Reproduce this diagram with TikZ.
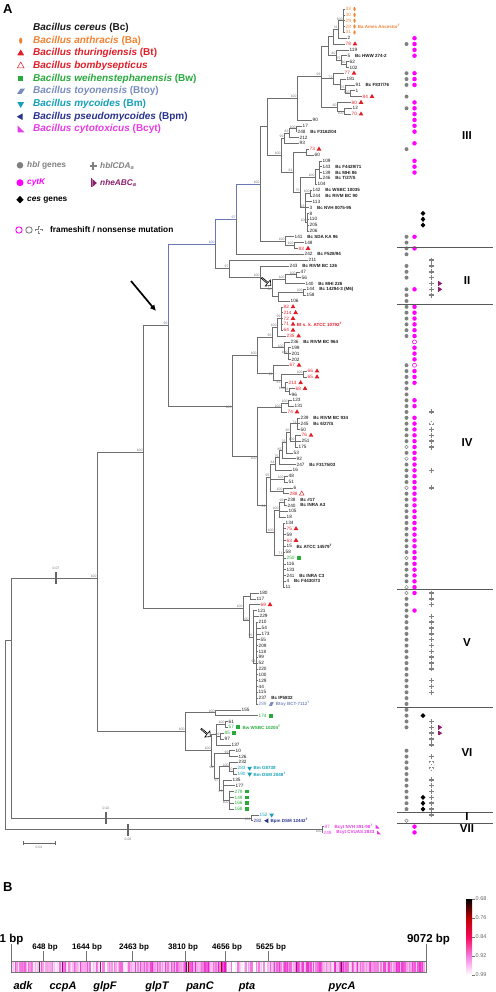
\documentclass[tikz,border=0pt]{standalone}
\usepackage{fontspec}
\setmainfont{Liberation Sans}
\usepackage{xcolor}
\usepackage{tikz}
\usetikzlibrary{shapes.geometric, shapes.arrows, arrows.meta, positioning, calc}

\definecolor{bcc}{RGB}{25,25,25}
\definecolor{bac}{RGB}{240,130,50}
\definecolor{btc}{RGB}{225,30,40}
\definecolor{bwc}{RGB}{40,170,60}
\definecolor{btoyc}{RGB}{120,140,190}
\definecolor{bmc}{RGB}{20,160,185}
\definecolor{bpmc}{RGB}{40,50,140}
\definecolor{bcytc}{RGB}{230,60,230}
\definecolor{hblgray}{RGB}{128,128,128}
\definecolor{cytk}{RGB}{255,0,255}
\definecolor{nhec}{RGB}{140,30,110}
\definecolor{brc}{RGB}{110,110,110}
\definecolor{bluebr}{RGB}{105,120,180}
\definecolor{heat}{RGB}{235,20,200}

% row positions of the tree leaves
\newcommand{\rowy}[1]{9+5.84*#1}

\begin{document}
\begin{tikzpicture}[x=1pt, y=-1pt,
  br/.style={draw=brc, line width=0.55pt},
  brb/.style={draw=bluebr, line width=0.55pt},
  leaf/.style={anchor=west, inner sep=0.5pt, font=\fontsize{4.7}{5}\selectfont},
  strain/.style={anchor=west, inner sep=0.5pt, font=\fontsize{4.5}{5}\selectfont\bfseries},
  bs/.style={inner sep=0.3pt, text=black!55, font=\fontsize{3.4}{3.4}\selectfont},
  nomk/.style={inner sep=0pt, minimum size=0pt},
  ba/.style={ellipse, fill=bac, inner sep=0pt, minimum width=2.2pt, minimum height=4.2pt},
  bt/.style={regular polygon, regular polygon sides=3, fill=btc, inner sep=0pt, minimum size=5.4pt},
  bbo/.style={regular polygon, regular polygon sides=3, draw=btc, line width=0.5pt, fill=white, inner sep=0pt, minimum size=5.4pt},
  bw/.style={rectangle, fill=bwc, inner sep=0pt, minimum size=3.8pt},
  btoy/.style={rectangle, inner sep=0pt, minimum width=4.6pt, minimum height=3.6pt,
    path picture={\fill[btoyc] (path picture bounding box.south west)
      -- ([xshift=-1.6pt]path picture bounding box.south east)
      -- (path picture bounding box.north east)
      -- ([xshift=1.6pt]path picture bounding box.north west) -- cycle;}},
  bm/.style={regular polygon, regular polygon sides=3, shape border rotate=180, fill=bmc, inner sep=0pt, minimum size=5.4pt},
  bpm/.style={regular polygon, regular polygon sides=3, shape border rotate=90, fill=bpmc, inner sep=0pt, minimum size=5.4pt},
  leg/.style={anchor=west, inner sep=0pt, font=\fontsize{10}{11}\selectfont\bfseries},
  gleg/.style={anchor=west, inner sep=0pt, font=\fontsize{8.3}{9}\selectfont\bfseries},
  clade/.style={font=\fontsize{11.5}{12}\selectfont\bfseries},
  sepline/.style={draw=black!65, line width=0.9pt},
  plusst/.style={draw=black!50, line width=1.5pt},
  bp/.style={font=\fontsize{8}{8}\selectfont\bfseries, anchor=base, inner sep=0pt},
  gene/.style={font=\fontsize{11}{11}\selectfont\bfseries\itshape, anchor=base, inner sep=0pt},
  panel/.style={font=\fontsize{13}{13}\selectfont\bfseries, anchor=west, inner sep=0pt},
]
\useasboundingbox (0,0) rectangle (495,992);

% panel letters
\node[panel] (labA) at (3,9) {A};
\node[panel] (labB) at (3,887) {B};

% species legend
\foreach \i/\col/\mk/\t in {0/bcc/nomk/{\textit{Bacillus cereus} (Bc)},
  1/bac/ba/{\textit{Bacillus anthracis} (Ba)},
  2/btc/bt/{\textit{Bacillus thuringiensis} (Bt)},
  3/btc/bbo/{\textit{Bacillus bombysepticus}},
  4/bwc/bw/{\textit{Bacillus weihenstephanensis} (Bw)},
  5/btoyc/nomk/{\textit{Bacillus toyonensis} (Btoy)},
  6/bmc/bm/{\textit{Bacillus mycoides} (Bm)},
  7/bpmc/bpm/{\textit{Bacillus pseudomycoides} (Bpm)},
  8/bcytc/nomk/{\textit{Bacillus cytotoxicus} (Bcyt)}}{
  \node[leg, text=\col] (sp\i) at (33,{28+12.67*\i}) {\t};
  \node[\mk, scale=1.45] (lm\i) at (20.7,{28+12.67*\i}) {};
}
\fill[btoyc] (17,94) -- (21.5,94) -- (25,88.6) -- (20.5,88.6) -- cycle;
\fill[bcytc] (17.5,125.5) -- (17.5,132.5) -- (24.5,132.5) -- cycle;

% gene legend
\fill[hblgray] (20,165.3) circle (3.3pt);
\node[gleg, text=hblgray] (gl1) at (27,165.3) {\textit{hbl} genes};
\fill[cytk] (20,182.7) circle (3.5pt);
\node[gleg, text=cytk] (gl2) at (27,182.7) {\textit{cytK}};
\fill (20,199.7) +(0,-3.8) -- +(3.6,0) -- +(0,3.8) -- +(-3.6,0) -- cycle;
\node[gleg] (gl3) at (27,199.7) {\textit{ces} genes};
\draw[draw=hblgray, line width=2pt] (93.3,166) +(-3.6,0) -- +(3.6,0) +(0,-3.6) -- +(0,3.6);
\node[gleg, text=hblgray] (gl4) at (100,166) {\textit{hblCDA\textsubscript{a}}};
\fill[nhec] (91,178.5) rectangle (92.4,187.5);
\fill[nhec] (92.4,179) -- (96.8,183) -- (92.4,187) -- cycle;
\node[gleg, text=nhec] (gl5) at (100,183) {\textit{nheABC\textsubscript{a}}};
\draw[cytk, line width=0.9pt] (19,230) circle (3.2pt);
\draw[hblgray, line width=0.9pt] (29,230) circle (3.2pt);
\draw[hblgray, line width=2.4pt] (39,230) +(-3.6,0) -- +(3.6,0) +(0,-3.6) -- +(0,3.6);
\draw[white, line width=0.9pt] (39,230) +(-2.7,0) -- +(2.7,0) +(0,-2.7) -- +(0,2.7);
\node[gleg] (gl6) at (50,230) {frameshift / nonsense mutation};

% tree leaves: row / tip x / number / colour / mark / strain
\foreach \r/\x/\n/\col/\mk/\s in {
  0/345/33/bac/ba/{}, 1/345/30/bac/ba/{}, 2/345/29/bac/ba/{},
  3/345/28/bac/ba/{Ba Ames Ancestor\textsuperscript{T}}, 4/345/31/bac/ba/{},
  5/347/2/bcc/nomk/{}, 6/345/78/btc/bt/{}, 7/349/119/bcc/nomk/{},
  8/347/5/bcc/nomk/{Bc HWW 274-2}, 9/349/62/bcc/nomk/{}, 10/349/102/bcc/nomk/{},
  11/344/77/btc/bt/{}, 12/346/181/bcc/nomk/{}, 13/355/91/bcc/nomk/{Bc F837/76},
  14/355/1/bcc/nomk/{}, 15/362/84/btc/bt/{}, 16/351/80/btc/bt/{},
  17/352/12/bcc/nomk/{}, 18/351/70/btc/bt/{}, 19/312/90/bcc/nomk/{},
  20/302/17/bcc/nomk/{}, 21/297/248/bcc/nomk/{Bc F3162/04}, 22/299/212/bcc/nomk/{},
  23/299/93/bcc/nomk/{}, 24/309/73/btc/bt/{}, 25/314/60/bcc/nomk/{},
  26/322/109/bcc/nomk/{}, 27/322/143/bcc/nomk/{Bc F4429/71}, 28/322/139/bcc/nomk/{Bc MHI 86},
  29/322/246/bcc/nomk/{Bc T/27/S}, 30/317/104/bcc/nomk/{}, 31/312/142/bcc/nomk/{Bc WSBC 10035},
  32/312/244/bcc/nomk/{Bc RIVM BC 90}, 33/312/113/bcc/nomk/{}, 34/309/3/bcc/nomk/{Bc NVH 0075-95},
  35/309/8/bcc/nomk/{}, 36/309/110/bcc/nomk/{}, 37/309/205/bcc/nomk/{},
  38/309/206/bcc/nomk/{}, 39/294/141/bcc/nomk/{Bc SDA KA 96}, 40/304/148/bcc/nomk/{},
  41/298/83/btc/bt/{}, 42/304/242/bcc/nomk/{Bc F528/94}, 43/308/211/bcc/nomk/{},
  44/289/243/bcc/nomk/{Bc RIVM BC 126}, 45/300/47/bcc/nomk/{}, 46/301/56/bcc/nomk/{},
  47/305/140/bcc/nomk/{Bc MHI 226}, 48/306/144/bcc/nomk/{Bc 14294-3 (M6)}, 49/306/158/bcc/nomk/{},
  50/290/106/bcc/nomk/{}, 51/283/82/btc/bt/{}, 52/283/214/btc/bt/{},
  53/283/72/btc/bt/{}, 54/283/71/btc/bt/{Bt s. k. ATCC 10792\textsuperscript{T}}, 55/283/64/btc/bt/{},
  56/286/235/btc/bt/{}, 57/290/236/bcc/nomk/{Bc RIVM BC 964}, 58/291/199/bcc/nomk/{},
  59/291/201/bcc/nomk/{}, 60/291/202/bcc/nomk/{}, 61/289/67/btc/bt/{},
  62/307/66/btc/bt/{}, 63/307/65/btc/bt/{}, 64/288/213/btc/bt/{},
  65/295/68/btc/bt/{}, 66/291/96/bcc/nomk/{}, 67/292/123/bcc/nomk/{},
  68/294/131/bcc/nomk/{}, 69/287/74/btc/bt/{}, 70/300/239/bcc/nomk/{Bc RIVM BC 934},
  71/300/245/bcc/nomk/{Bc 6/27/S}, 72/300/50/bcc/nomk/{}, 73/301/76/btc/bt/{},
  74/301/251/bcc/nomk/{}, 75/298/175/bcc/nomk/{}, 76/293/53/bcc/nomk/{},
  77/296/92/bcc/nomk/{}, 78/296/247/bcc/nomk/{Bc F3175/03}, 79/292/16/bcc/nomk/{},
  80/288/48/bcc/nomk/{}, 81/288/51/bcc/nomk/{}, 82/293/6/bcc/nomk/{},
  83/289/288/btc/bbo/{}, 84/287/238/bcc/nomk/{Bc \#17}, 85/287/240/bcc/nomk/{Bc INRA A3},
  86/288/105/bcc/nomk/{}, 87/286/18/bcc/nomk/{}, 88/285/134/bcc/nomk/{},
  89/286/75/btc/bt/{}, 90/286/59/bcc/nomk/{}, 91/286/63/btc/bt/{},
  92/286/15/bcc/nomk/{Bc ATCC 14579\textsuperscript{T}}, 93/285/58/bcc/nomk/{}, 94/286/250/bwc/bw/{},
  95/286/116/bcc/nomk/{}, 96/286/133/bcc/nomk/{}, 97/286/241/bcc/nomk/{Bc INRA C3},
  98/286/4/bcc/nomk/{Bc F4430/73}, 99/285/11/bcc/nomk/{}, 100/259/180/bcc/nomk/{},
  101/256/117/bcc/nomk/{}, 102/260/69/btc/bt/{}, 103/257/121/bcc/nomk/{},
  104/259/229/bcc/nomk/{}, 105/258/210/bcc/nomk/{}, 106/261/54/bcc/nomk/{},
  107/261/173/bcc/nomk/{}, 108/260/55/bcc/nomk/{}, 109/258/209/bcc/nomk/{},
  110/258/118/bcc/nomk/{}, 111/258/99/bcc/nomk/{}, 112/258/52/bcc/nomk/{},
  113/258/220/bcc/nomk/{}, 114/258/100/bcc/nomk/{}, 115/258/129/bcc/nomk/{},
  116/258/44/bcc/nomk/{}, 117/258/115/bcc/nomk/{}, 118/258/237/bcc/nomk/{Bc IP5832},
  119/258/289/btoyc/btoy/{Btoy BCT-7112\textsuperscript{T}}, 120/241/155/bcc/nomk/{}, 121/258/174/bwc/bw/{},
  122/228/61/bcc/nomk/{}, 123/228/57/bwc/bw/{Bw WSBC 10204\textsuperscript{T}}, 124/224/85/bwc/bw/{},
  125/224/97/bcc/nomk/{}, 126/231/137/bcc/nomk/{}, 127/235/10/bcc/nomk/{},
  128/238/126/bcc/nomk/{}, 129/238/232/bcc/nomk/{}, 130/237/283/bmc/bm/{Bm G8738},
  131/237/190/bmc/bm/{Bm DSM 2048\textsuperscript{T}}, 132/232/135/bcc/nomk/{}, 133/235/177/bcc/nomk/{},
  134/234/279/bwc/bw/{}, 135/234/149/bwc/bw/{}, 136/234/166/bwc/bw/{},
  137/234/168/bwc/bw/{}, 138/259/152/bmc/bm/{}, 139/253/282/bpmc/bpm/{Bpm DSM 12442\textsuperscript{T}},
  140/324/87/bcytc/nomk/{Bcyt NVH 391-98\textsuperscript{T}}, 141/323/249/bcytc/nomk/{Bcyt CVUAS 2833}}{
  \node[leaf, text=\col] (l\r) at (\x,{\rowy{\r}}) {\n};
  \node[\mk, anchor=west] (m\r) at ([xshift=1.6pt]l\r.east) {};
  \node[strain, text=\col] (s\r) at ([xshift=1.4pt]m\r.east) {\s};
}
\fill[bcytc] ([xshift=2pt,yshift=2pt]s140.east) -- ++(0,4) -- ++(4,0) -- cycle;
\fill[bcytc] ([xshift=2pt,yshift=2pt]s141.east) -- ++(0,4) -- ++(4,0) -- cycle;

% internal nodes, clade III
\coordinate (nOr) at (343,20.7);    \coordinate (n76) at (338,29.4);
\coordinate (nA1) at (333,36.7);    \coordinate (nB2) at (346,64.5);
\coordinate (nB1) at (341,60.1);    \coordinate (nB) at (336,55);
\coordinate (nA2) at (328,45.9);    \coordinate (nC4) at (350,93.7);
\coordinate (nC3) at (345,89.3);    \coordinate (nC2) at (340,84.2);
\coordinate (nC) at (333,78.7);     \coordinate (n12) at (344,111.2);
\coordinate (nD) at (337,106.8);    \coordinate (n99top) at (321,76.4);
\coordinate (n100up) at (297,98.2); \coordinate (n100h) at (296,128.7);
\coordinate (n83) at (289,133.1);   \coordinate (n99b) at (284,138.2);
\coordinate (nL1) at (306,152.1);   \coordinate (n143) at (319,169.6);
\coordinate (n109) at (315,176.9);  \coordinate (n142) at (310,193);
\coordinate (n8) at (307,222.2);    \coordinate (nL3) at (305,207.6);
\coordinate (nL2) at (300,192.2);   \coordinate (nL) at (293,172.2);
\coordinate (n95) at (281,155.2);   \coordinate (nIIIa) at (267,126.7);
\coordinate (n100g) at (294,245.5); \coordinate (n141) at (285,241.1);
\coordinate (nIII) at (260,183.9);  \coordinate (nIIIall) at (236,219.1);
% clade II
\coordinate (n47) at (296,274.7);   \coordinate (nII3) at (285,279.1);
\coordinate (n144) at (303,292.2);  \coordinate (nII5) at (278,296.6);
\coordinate (nII2) at (272,287.9);  \coordinate (nII) at (260,277);
\coordinate (n97) at (229,268.5);   \coordinate (nP) at (215,243.8);
% clade IV
\coordinate (nBt2) at (281,318.5);  \coordinate (nBt) at (277,327.3);
\coordinate (n199) at (288,353.6);  \coordinate (n236) at (284,347.7);
\coordinate (n95IV) at (272,337.5); \coordinate (nC100) at (303,374);
\coordinate (nC93b) at (289,391.5); \coordinate (nC93) at (285,387.1);
\coordinate (nC83) at (281,380.6);  \coordinate (nC92) at (273,372.9);
\coordinate (nIVa) at (257,355.2);  \coordinate (n123) at (288,403.2);
\coordinate (nIVc) at (281,407.6);  \coordinate (n239) at (297,423.6);
\coordinate (n76b) at (295,441.2);  \coordinate (L5) at (290,432.4);
\coordinate (L4) at (286,442.6);    \coordinate (L3) at (282,450.6);
\coordinate (L2) at (279,457.6);    \coordinate (L1) at (275,464);
\coordinate (n48) at (284,479.1);   \coordinate (n6) at (283,490.8);
\coordinate (L0) at (270,477.4);    \coordinate (n238b) at (284,502.5);
\coordinate (n238) at (279,509.8);  \coordinate (nComb) at (283,555);
\coordinate (nIVe) at (274,532.4);  \coordinate (nIVd) at (266,504.9);
\coordinate (nIVb) at (257,456.3);  \coordinate (nIV) at (232,405.8);
\coordinate (n96) at (168,324.8);
% clades V, VI, I, VII and root
\coordinate (nV1) at (250,595.9);   \coordinate (nV4) at (256,663);
\coordinate (nV3) at (253,636.8);   \coordinate (nV2) at (249,620.7);
\coordinate (nV) at (243,608.3);    \coordinate (nBbig) at (143,452);
\coordinate (n155) at (215,712.7);  \coordinate (n61) at (225,724.4);
\coordinate (n85) at (220,736.1);   \coordinate (nW) at (216,734.6);
\coordinate (n10) at (229,753.6);   \coordinate (nBm2) at (233,771.1);
\coordinate (nBm) at (229,766.7);   \coordinate (nG) at (229,800.3);
\coordinate (nM3) at (223,790.1);   \coordinate (nM2) at (219,778.4);
\coordinate (nM) at (214,766);      \coordinate (nVIb) at (211,750.3);
\coordinate (nVI) at (185,731.5);   \coordinate (nAbig) at (97,578);
\coordinate (nI) at (251,817.8);    \coordinate (nX) at (11,640);
\coordinate (nVII) at (322,829.5);  \coordinate (root) at (5,735);

% branches
\foreach \pa/\ch in {nOr/l0.west, nOr/l1.west, nOr/l2.west, nOr/l3.west, nOr/l4.west,
  n76/nOr, n76/l5.west, nA1/n76, nA1/l6.west, nB2/l9.west, nB2/l10.west,
  nB1/l8.west, nB1/nB2, nB/l7.west, nB/nB1, nA2/nA1, nA2/nB,
  nC4/l14.west, nC4/l15.west, nC3/l13.west, nC3/nC4, nC2/l12.west, nC2/nC3,
  nC/l11.west, nC/nC2, n12/l17.west, n12/l18.west, nD/l16.west, nD/n12,
  n99top/nA2, n99top/nC, n99top/nD, n100up/n99top, n100up/l19.west,
  n100h/l20.west, n100h/l21.west, n83/n100h, n83/l22.west, n99b/n83, n99b/l23.west,
  nL1/l24.west, nL1/l25.west, n143/l26.west, n143/l27.west, n143/l28.west, n143/l29.west,
  n109/n143, n109/l30.west, n142/l31.west, n142/l32.west,
  n8/l35.west, n8/l36.west, n8/l37.west, n8/l38.west,
  nL3/n142, nL3/l33.west, nL3/l34.west, nL3/n8, nL2/n109, nL2/nL3,
  nL/nL1, nL/nL2, n95/n99b, n95/nL, nIIIa/n100up, nIIIa/n95,
  n100g/l40.west, n100g/l41.west, n141/l39.west, n141/n100g,
  nIII/nIIIa, nIII/n141, nIIIall/l42.west,
  n47/l45.west, n47/l46.west, nII3/n47, nII3/l47.west, n144/l48.west, n144/l49.west,
  nII5/n144, nII5/l50.west, nII2/nII3, nII2/nII5, nII/l44.west, nII/nII2,
  n97/l43.west, n97/nII, nP/n97,
  nBt2/l51.west, nBt2/l52.west, nBt2/l53.west, nBt2/l54.west, nBt2/l55.west,
  nBt/nBt2, nBt/l56.west, n199/l58.west, n199/l59.west, n199/l60.west,
  n236/l57.west, n236/n199, n95IV/nBt, n95IV/n236,
  nC100/l62.west, nC100/l63.west, nC93b/l65.west, nC93b/l66.west,
  nC93/l64.west, nC93/nC93b, nC83/nC100, nC83/nC93, nC92/l61.west, nC92/nC83,
  nIVa/n95IV, nIVa/nC92, n123/l67.west, n123/l68.west, nIVc/n123, nIVc/l69.west,
  n239/l70.west, n239/l71.west, n239/l72.west, n76b/l73.west, n76b/l74.west, n76b/l75.west,
  L5/n239, L5/n76b, L4/L5, L4/l76.west, L3/L4, L3/l77.west, L2/L3, L2/l78.west,
  L1/L2, L1/l79.west, n48/l80.west, n48/l81.west, n6/l82.west, n6/l83.west,
  L0/L1, L0/n48, L0/n6, n238b/l84.west, n238b/l85.west,
  n238/n238b, n238/l86.west, n238/l87.west,
  nComb/l88.west, nComb/l89.west, nComb/l90.west, nComb/l91.west, nComb/l92.west, nComb/l93.west,
  nComb/l94.west, nComb/l95.west, nComb/l96.west, nComb/l97.west, nComb/l98.west, nComb/l99.west,
  nIVe/n238, nIVe/nComb, nIVd/L0, nIVd/nIVe, nIVb/nIVc, nIVb/nIVd,
  nIV/nIVa, nIV/nIVb, n96/nIV,
  nV1/l100.west, nV1/l101.west,
  nV4/l105.west, nV4/l106.west, nV4/l107.west, nV4/l108.west, nV4/l109.west,
  nV4/l110.west, nV4/l111.west, nV4/l112.west, nV4/l113.west, nV4/l114.west,
  nV4/l115.west, nV4/l116.west, nV4/l117.west, nV4/l118.west, nV4/l119.west,
  nV3/l103.west, nV3/l104.west, nV3/nV4, nV2/l102.west, nV2/nV3, nV/nV1, nV/nV2,
  nBbig/n96, nBbig/nV,
  n155/l120.west, n155/l121.west, n61/l122.west, n61/l123.west,
  n85/l124.west, n85/l125.west, nW/n61, nW/n85, nW/l126.west,
  n10/l127.west, n10/l128.west, nBm2/l130.west, nBm2/l131.west, nBm/l129.west, nBm/nBm2,
  nG/l134.west, nG/l135.west, nG/l136.west, nG/l137.west,
  nM3/l132.west, nM3/l133.west, nM3/nG, nM2/nBm, nM2/nM3, nM/n10, nM/nM2,
  nVIb/nW, nVIb/nM, nVI/n155, nVI/nVIb, nAbig/nBbig, nAbig/nVI,
  nI/l138.west, nI/l139.west, nX/nAbig, nX/nI, nVII/l140.west, nVII/l141.west,
  root/nX, root/nVII}
  \draw[br] (\pa) |- (\ch);
\draw[brb] (n96) |- (nP) (nP) |- (nIIIall) (nIIIall) |- (nIII);

% bootstrap values
\foreach \nd/\v in {nOr/100, n76/76, nB/80, nB1/75, nB2/90, n99top/99, nC/72, nC3/75,
  nC4/100, nD/90, n100up/100, n99b/99, n83/83, n100h/100, n95/100, nL/81, nL2/75,
  n109/100, n142/100, nL3/93, n8/100, nIII/100, n141/100, n100g/100, n97/97, nII/100,
  nII3/100, n47/100, n144/100, nIVa/100, n95IV/95, nBt/100, nBt2/99, n236/100,
  n199/100, nC100/100, nC93b/93, nIVc/100, n123/100, L0/95, L1/84, L2/75, L3/85,
  L4/76, L5/95, n239/71, n76b/100, n48/100, n6/100, nIVe/100, n238/100, n238b/99,
  nComb/71, nBbig/100, nAbig/100, nV/100, nV2/100, nV3/95, nV4/93, nVI/100,
  n155/100, nVIb/100, n61/100, n85/99, nBm/100, nBm2/70, n10/99, n96/96}
  \node[bs, anchor=south east] (b\nd) at (\nd) {\v};
\foreach \nd/\v in {n12/100, nII2/98, nC92/92, nC83/83, nC93/100, nIV/100, nIVb/100,
  nIVd/99, nM/94, nM2/97, nM3/83, nG/100, nI/100, nVII/100}
  \node[bs, anchor=north east] (b\nd) at (\nd) {\v};
\node[bs, anchor=south east, text=bluebr] (bnIIIall) at (nIIIall) {97};
\node[bs, anchor=south east, text=bluebr] (bnP) at (nP) {100};

% shortened long branches and scale bar
\draw[black!60, line width=1.4pt] (56,572) -- (56,584);
\node[bs, anchor=south] (t07) at (56,570) {0.07};
\draw[black!60, line width=1.4pt] (106,811.8) -- (106,823.8);
\node[bs, anchor=south] (t02) at (106,809.8) {0.02};
\draw[black!60, line width=1.4pt] (128,823.5) -- (128,835.5);
\node[bs, anchor=north] (t08) at (128,837.5) {0.08};
\draw[black!60, line width=0.5pt] (23,841) -- (23,845) (23,843) -- (55,843) (55,841) -- (55,845);
\node[bs, anchor=north] (t01) at (39,846) {0.01};

% arrows on the tree
\coordinate (arrS) at (131,281);
\coordinate (arrE) at (156,311);
\draw[-{Latex[length=6pt,width=6pt]}, line width=1.7pt] (arrS) -- (arrE);
\node[single arrow, draw, fill=white, line width=0.6pt, minimum height=12pt, minimum width=8pt,
  single arrow head extend=1.5pt, inner sep=0pt, rotate=-40] (oa1) at (266,281.5) {};
\node[single arrow, draw, fill=white, line width=0.6pt, minimum height=12pt, minimum width=8pt,
  single arrow head extend=1.5pt, inner sep=0pt, rotate=-40] (oa2) at (205.5,732.5) {};

% toxin gene columns
\foreach \r in {6,11,12,13,15,17,24,39,40,41,42,44,45,46,48,49,50,51,52,...,56,61,62,...,74,
  76,78,79,...,81,83,84,...,93,95,96,...,98,101,102,...,123,127,128,...,137}
  \fill[hblgray] (406.5,{\rowy{\r}}) circle (2pt);
\foreach \r in {75,77,82,94,99,100,139}
  \draw[hblgray, line width=0.5pt] (406.5,{\rowy{\r}}) circle (1.8pt);
\foreach \r in {5,6,7,8,11,12,13,16,17,18,19,20,21,23,26,27,28,39,41,48,51,52,...,56,
  58,59,60,62,63,64,67,68,70,71,...,100,103,140,141}
  \fill[cytk] (414.5,{\rowy{\r}}) circle (2.25pt);
\foreach \r in {57,61}
  \draw[cytk, line width=0.6pt] (414.5,{\rowy{\r}}) circle (2pt);
\foreach \r in {35,36,37,121,135,136,137}
  \fill (423,{\rowy{\r}}) +(0,-2.6) -- +(2.4,0) -- +(0,2.6) -- +(-2.4,0) -- cycle;
\foreach \r in {43,44,...,49,69,72,73,74,75,79,82,100,101,102,104,105,...,113,115,116,117,
  122,123,...,126,128,132,133,...,138}
  \draw[plusst] (431.5,{\rowy{\r}}) +(-2.5,0) -- +(2.5,0) +(0,-2.5) -- +(0,2.5);
\foreach \r in {71,129,130}{
  \draw[black!45, line width=1.8pt] (431.5,{\rowy{\r}}) +(-2.6,0) -- +(2.6,0) +(0,-2.6) -- +(0,2.6);
  \draw[white, line width=0.6pt] (431.5,{\rowy{\r}}) +(-1.9,0) -- +(1.9,0) +(0,-1.9) -- +(0,1.9);
}
\foreach \r in {47,48,123,124}{
  \fill[nhec] (438.3,{\rowy{\r}-2.3}) rectangle ++(0.9,4.6);
  \fill[nhec] (439.2,{\rowy{\r}-2}) -- ++(3,2) -- ++(-3,2) -- cycle;
}

% clade separators and names
\foreach \y in {247,304,589,707,812,823}
  \draw[sepline] (397,\y) -- (493,\y);
\foreach \t/\y [count=\k] in {III/136, II/281, IV/443, V/643, VI/753, I/817, VII/829}
  \node[clade] (cl\k) at (467,\y) {\t};

% panel B: concatenated alignment
\pgfmathsetseed{42}
\foreach \x in {11.2,12.5,...,424.5}{
  \pgfmathsetmacro\b{\x<43 ? 38 : (\x<87 ? 45 : (\x<133 ? 28 : (\x<186 ? 50 : (\x<225 ? 62 : (\x<268 ? 22 : 52)))))}
  \pgfmathtruncatemacro\v{max(0,min(100,\b+75*(rnd-0.5)))}
  \fill[heat!\v!white] (\x,961) rectangle ++(1.35,11);
}
\foreach \x/\cc in {38.5/black!75, 62/heat!60!black, 100/heat!70!black, 186/black!80,
  188/red!60!black, 220.5/red!60!black, 296/heat!70!black, 341/heat!50!black}
  \fill[\cc] (\x,961) rectangle ++(0.8,11);
\draw[black!55, line width=0.5pt] (11,961) rectangle (426,972);
\draw[black!55, line width=0.5pt] (11,961) -- (11,944) (426,961) -- (426,944);
\foreach \x in {43,86.7,132.7,185.7,225.3,268.3}
  \draw[black!55, line width=0.5pt] (\x,961) -- (\x,951);
\node[font=\fontsize{11.5}{12}\selectfont\bfseries, anchor=base, inner sep=0pt] (bp1) at (11.5,942) {1 bp};
\node[font=\fontsize{11.5}{12}\selectfont\bfseries, anchor=base, inner sep=0pt] (bp9) at (428.5,942) {9072 bp};
\foreach \x/\t [count=\k] in {45/648 bp, 87/1644 bp, 134/2463 bp, 183/3810 bp, 227/4656 bp, 271/5625 bp}
  \node[bp] (bpl\k) at (\x,949) {\t};
\foreach \x/\t [count=\k] in {23/adk, 63/ccpA, 105/glpF, 157/glpT, 200/panC, 247/pta, 342/pycA}
  \node[gene] (gn\k) at (\x,989) {\t};

% colour key
\shade[top color=black, bottom color=red!75!black] (466,899) rectangle (472,918);
\shade[top color=red!75!black, bottom color=red!55!heat] (466,918) rectangle (472,937);
\shade[top color=red!55!heat, bottom color=heat!55!white] (466,937) rectangle (472,956);
\shade[top color=heat!55!white, bottom color=white] (466,956) rectangle (472,975);
\foreach \y/\t [count=\k] in {899/0.68, 918/0.76, 937/0.84, 956/0.92, 975/0.99}{
  \draw[black!55, line width=0.4pt] (472,\y) -- (474.5,\y);
  \node[anchor=west, inner sep=0pt, text=black!60, font=\fontsize{5.5}{6}\selectfont] (ck\k) at (475.5,\y) {\t};
}
\end{tikzpicture}
\end{document}
